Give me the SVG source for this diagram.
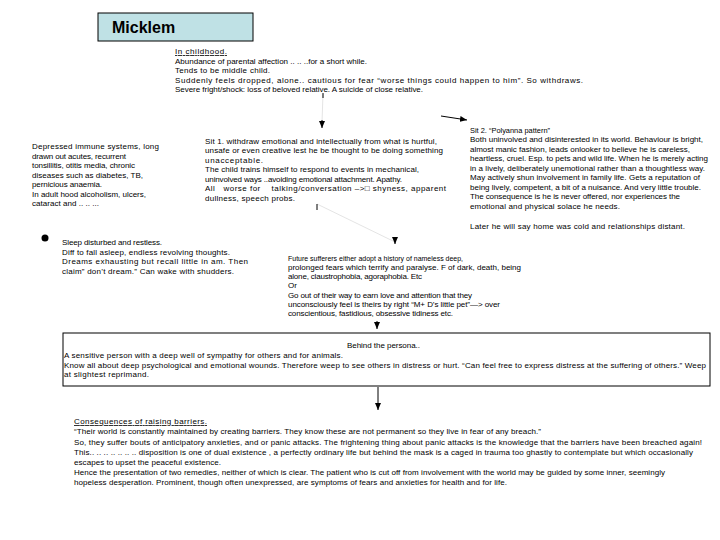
<svg xmlns="http://www.w3.org/2000/svg" width="720" height="540" viewBox="0 0 720 540">
<style>
text{font-family:"Liberation Sans",Arial,sans-serif;font-size:8px;fill:#000}
.title{font-size:16px;font-weight:bold}
.u{text-decoration:underline}
.box{fill:none;stroke:#000;stroke-width:1}
.conn{stroke:#000;stroke-width:1;fill:none}
.faint{stroke:#c8c8c8;stroke-width:0.5;fill:none}
</style>
<defs>
<marker id="ah" markerUnits="userSpaceOnUse" markerWidth="8" markerHeight="8" refX="7" refY="4" orient="auto">
<path d="M0,1 L7,4 L0,7 Z" fill="#000"/>
</marker>
</defs>
<rect width="720" height="540" fill="#fff"/>

<g id="title">
<rect x="98" y="13" width="155" height="28" fill="#bfe1e5" stroke="#000" stroke-width="1"/>
<text class="title" x="112" y="33">Micklem</text>
</g>

<g id="childhood">
<text class="u" x="175" y="54" textLength="52" lengthAdjust="spacing">In childhood.</text>
<text x="175" y="63.5" textLength="192" lengthAdjust="spacing">Abundance of parental affection .. .. ..for a short while.</text>
<text x="175" y="73" textLength="95" lengthAdjust="spacing">Tends to be middle child.</text>
<text x="175" y="82.5" textLength="408" lengthAdjust="spacing">Suddenly feels dropped, alone.. cautious for fear “worse things could happen to him”. So withdraws.</text>
<text x="175" y="92" textLength="248" lengthAdjust="spacing">Severe fright/shock: loss of beloved relative. A suicide of close relative.</text>
</g>

<g id="illness">
<text x="32" y="149" textLength="127" lengthAdjust="spacing">Depressed immune systems, long</text>
<text x="32" y="158.5" textLength="94" lengthAdjust="spacing">drawn out acutes, recurrent</text>
<text x="32" y="168" textLength="103" lengthAdjust="spacing">tonsillitis, otitis media, chronic</text>
<text x="32" y="177.5" textLength="111" lengthAdjust="spacing">diseases such as diabetes, TB,</text>
<text x="32" y="187" textLength="70" lengthAdjust="spacing">pernicious anaemia.</text>
<text x="32" y="196.5" textLength="114" lengthAdjust="spacing">In adult hood alcoholism, ulcers,</text>
<text x="32" y="206" textLength="67" lengthAdjust="spacing">cataract and .. .. ...</text>
</g>

<g id="sit1">
<text x="205" y="143.5" textLength="232" lengthAdjust="spacing">Sit 1. withdraw emotional and intellectually from what is hurtful,</text>
<text x="205" y="153" textLength="238" lengthAdjust="spacing">unsafe or even creative lest he be thought to be doing something</text>
<text x="205" y="162.5" textLength="58" lengthAdjust="spacing">unacceptable.</text>
<text x="205" y="172" textLength="214" lengthAdjust="spacing">The child trains himself to respond to events in mechanical,</text>
<text x="205" y="181.5" textLength="197" lengthAdjust="spacing">uninvolved ways ..avoiding emotional attachment. Apathy.</text>
<text x="205" y="191" textLength="241" lengthAdjust="spacing" xml:space="preserve">All   worse for    talking/conversation –&gt;□ shyness, apparent</text>
<text x="205" y="200.5" textLength="90" lengthAdjust="spacing">dullness, speech probs.</text>
</g>

<g id="sit2">
<text x="470" y="132.5" textLength="80" lengthAdjust="spacingAndGlyphs">Sit 2. “Polyanna pattern”</text>
<text x="470" y="142" textLength="233" lengthAdjust="spacing">Both uninvolved and disinterested in its world. Behaviour is bright,</text>
<text x="470" y="151.5" textLength="220" lengthAdjust="spacing">almost manic fashion, leads onlooker to believe he is careless,</text>
<text x="470" y="161" textLength="238" lengthAdjust="spacing">heartless, cruel. Esp. to pets and wild life. When he is merely acting</text>
<text x="470" y="170.5" textLength="235" lengthAdjust="spacing">in a lively, deliberately unemotional rather than a thoughtless way.</text>
<text x="470" y="180" textLength="230" lengthAdjust="spacing">May actively shun involvement in family life. Gets a reputation of</text>
<text x="470" y="189.5" textLength="231" lengthAdjust="spacing">being lively, competent, a bit of a nuisance. And very little trouble.</text>
<text x="470" y="199" textLength="210" lengthAdjust="spacing">The consequence is he is never offered, nor experiences the</text>
<text x="470" y="208.5" textLength="150" lengthAdjust="spacing">emotional and physical solace he needs.</text>
<text x="470" y="229" textLength="215" lengthAdjust="spacing">Later he will say home was cold and relationships distant.</text>
</g>

<g id="sleep">
<circle cx="45" cy="238" r="3.5" fill="#000"/>
<text x="62" y="245" textLength="100" lengthAdjust="spacing">Sleep disturbed and restless.</text>
<text x="62" y="254.5" textLength="168" lengthAdjust="spacing">Diff to fall asleep, endless revolving thoughts.</text>
<text x="62" y="264" textLength="186" lengthAdjust="spacing">Dreams exhausting but recall little in am. Then</text>
<text x="62" y="273.5" textLength="172" lengthAdjust="spacing">claim” don’t dream.” Can wake with shudders.</text>
</g>

<g id="future">
<text x="288" y="260.5" textLength="175" lengthAdjust="spacingAndGlyphs">Future sufferers  either adopt a history of nameless deep,</text>
<text x="288" y="269.8" textLength="233" lengthAdjust="spacing">prolonged fears which terrify and paralyse. F of dark, death, being</text>
<text x="288" y="279.1" textLength="134" lengthAdjust="spacing">alone, claustrophobia, agoraphobia. Etc</text>
<text x="288" y="288.4">Or</text>
<text x="288" y="297.7" textLength="184" lengthAdjust="spacing">Go out of their way to earn love and attention that they</text>
<text x="288" y="307" textLength="212" lengthAdjust="spacing">unconsciously feel is theirs by right “M+ D’s little pet”—&gt; over</text>
<text x="288" y="316.3" textLength="165" lengthAdjust="spacing">conscientious, fastidious, obsessive tidiness etc.</text>
</g>

<g id="persona">
<rect class="box" x="63" y="333" width="647" height="53"/>
<text x="347" y="348" textLength="73" lengthAdjust="spacing">Behind the persona..</text>
<text x="64" y="358" textLength="279" lengthAdjust="spacing">A sensitive person with a deep well of sympathy for others and for animals.</text>
<text x="64" y="367.5" textLength="642" lengthAdjust="spacing">Know all about deep psychological and emotional wounds. Therefore weep to see others in distress or hurt. “Can feel free to express distress at the suffering of others.” Weep</text>
<text x="64" y="377" textLength="85" lengthAdjust="spacing">at slightest reprimand.</text>
</g>

<g id="consequences">
<text class="u" x="74" y="424" textLength="133" lengthAdjust="spacing">Consequences of raising barriers.</text>
<text x="74" y="434" textLength="467" lengthAdjust="spacing">“Their world is constantly maintained by creating barriers. They know these are not permanent so they live in fear of any breach.”</text>
<text x="74" y="444.5" textLength="628" lengthAdjust="spacing">So, they suffer bouts of anticipatory anxieties, and or panic attacks. The frightening thing about panic attacks is the knowledge that the barriers have been breached again!</text>
<text x="74" y="455" textLength="619" lengthAdjust="spacing">This.. .. .. .. .. .. .. disposition is one of dual existence , a perfectly ordinary life but behind the mask is a caged in trauma too ghastly to contemplate but which occasionally</text>
<text x="74" y="465" textLength="147" lengthAdjust="spacing">escapes to upset the peaceful existence.</text>
<text x="74" y="475" textLength="591" lengthAdjust="spacing">Hence the presentation of two remedies, neither of which is clear.  The patient who is cut off from involvement with the world may be guided by some inner, seemingly</text>
<text x="74" y="485" textLength="433" lengthAdjust="spacing">hopeless desperation. Prominent, though often unexpressed, are symptoms of fears and anxieties for health and for life.</text>
</g>

<g id="connectors">
<line class="faint" x1="323" y1="94" x2="322" y2="122"/>
<line class="conn" x1="323" y1="93" x2="323" y2="98"/>
<line class="conn" x1="322" y1="120" x2="322" y2="128" marker-end="url(#ah)"/>
<line class="conn" x1="441" y1="116" x2="467" y2="120" marker-end="url(#ah)"/>
<line class="faint" x1="317" y1="204" x2="395" y2="242"/>
<line class="conn" x1="317" y1="204" x2="317" y2="210"/>
<line class="conn" x1="395" y1="238" x2="395" y2="244" marker-end="url(#ah)"/>
<line class="conn" x1="377" y1="321" x2="377" y2="329" marker-end="url(#ah)"/>
<line class="conn" x1="378" y1="387" x2="378" y2="410" marker-end="url(#ah)"/>
</g>
</svg>
